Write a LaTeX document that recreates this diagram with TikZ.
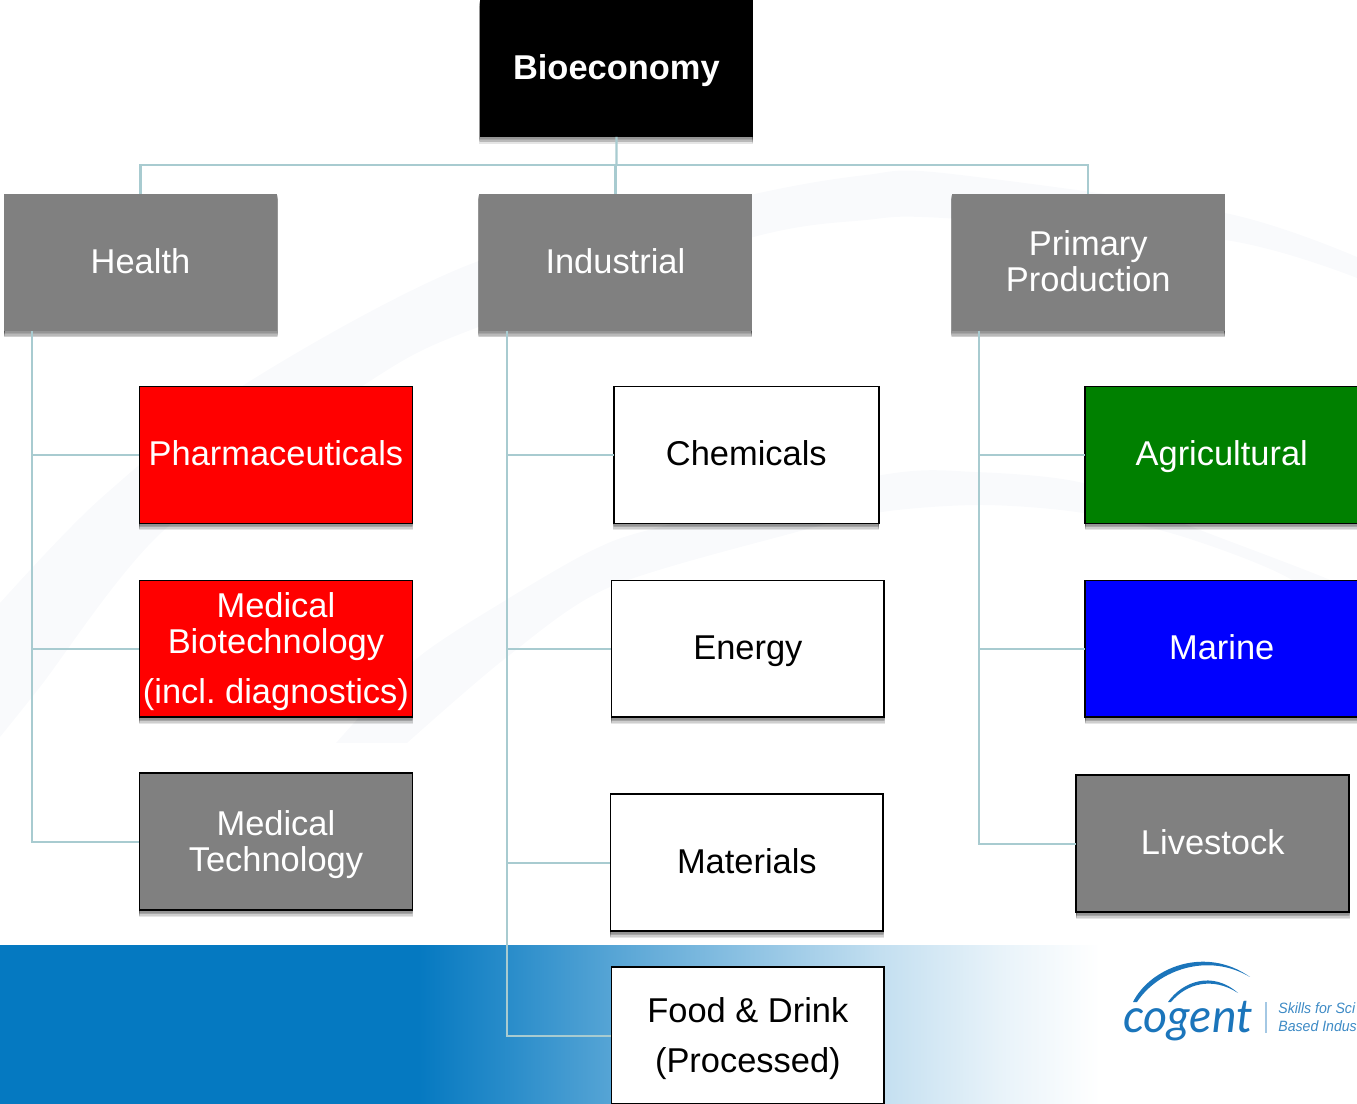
\documentclass[tikz,border=0pt]{standalone}
\usepackage{fontspec}
\setmainfont{Liberation Sans}
\newfontfamily\logofont{Lato}
\usepackage{tikz}

\definecolor{linkteal}{HTML}{A8CBD0}
\definecolor{bandblue}{HTML}{0579C1}
\definecolor{swooshgrey}{HTML}{F9FAFC}
\definecolor{logoblue}{HTML}{1B75BB}
\definecolor{boxgreen}{HTML}{008000}

% stops are in 25..75, the path is mapped on that part of the shading
\pgfdeclarehorizontalshading{bandshade}{100bp}{
  color(0bp)=(bandblue); color(44bp)=(bandblue);
  color(48bp)=(bandblue!86!white); color(52.7bp)=(bandblue!68!white);
  color(65bp)=(bandblue!24!white); color(70.5bp)=(bandblue!9!white);
  color(75bp)=(white); color(100bp)=(white)}

\tikzset{
  softlayer/.style={preaction={draw=black, fill=black, opacity=0.1, line width=0.5pt,
    transform canvas={yshift=#1}}},
  box/.style={rectangle, minimum width=5.46cm, minimum height=2.74cm, inner sep=0pt, outer sep=0pt,
    align=center, font=\fontsize{19.6pt}{20.5pt}\selectfont,
    softlayer=-3.4pt, softlayer=-2.7pt, softlayer=-2pt, softlayer=-1.3pt, softlayer=-0.6pt},
  oneline/.style={text height=15pt, text depth=2.5pt},
  topbox/.style={box, oneline, fill=black, text=white, font=\fontsize{19.6pt}{20.5pt}\selectfont\bfseries},
  sectorbox/.style={box, fill=gray, text=white},
  subbox/.style={box, draw=black, line width=1pt},
  redbox/.style={subbox, fill=red, text=white},
  greybox/.style={subbox, fill=gray, text=white},
  whitebox/.style={subbox, fill=white, text=black},
  link/.style={draw=linkteal, line width=0.045cm},
  swoosh/.style={fill=swooshgrey, draw=none}
}

\begin{document}
\begin{tikzpicture}[x=0.02cm, y=-0.02cm]
  \useasboundingbox (0,0) rectangle (1357,1104);
  \clip (0,0) rectangle (1357,1104);

  % Background
  \fill[swoosh] plot[smooth] coordinates {(0,603) (99,500) (247,383) (476,262) (750,195) (866,175) (943,173) (1225,213) (1357,257)}
    -- plot[smooth] coordinates {(1357,278) (1225,240) (943,218) (866,220) (750,238) (476,328) (367,383) (162,532) (40,687) (0,737)} -- cycle;
  \fill[swoosh] plot[smooth] coordinates {(336,743) (415,660) (506,600) (593,550) (660,527) (882,475) (975,472) (1083,483) (1187,525) (1330,580) (1357,600)}
    -- plot[smooth] coordinates {(1357,640) (1292,580) (1187,538) (1083,513) (982,505) (882,512) (793,533) (610,587) (507,657) (407,743)} -- cycle;
  \shade[shading=bandshade] (0,946) rectangle (1100,1104);

  % Logo
  \fill[logoblue] (1133,1002) .. controls (1150,968) and (1205,945) .. (1250,977)
    .. controls (1208,952) and (1158,970) .. (1137,1002) -- cycle;
  \fill[logoblue] (1168,1002) .. controls (1182,982) and (1212,970) .. (1238,993)
    .. controls (1212,976) and (1186,984) .. (1171,1002) -- cycle;
  \node[text=logoblue, inner sep=0pt, font=\fontsize{26.5pt}{26.5pt}\logofont\itshape] (cogent) at (1188,1021) {cogent};
  \node[text=logoblue!85, inner sep=0pt, anchor=west, xscale=0.945, font=\fontsize{8.5pt}{9pt}\itshape] (skills) at (1278,1008) {Skills for Sci};
  \node[text=logoblue!85, inner sep=0pt, anchor=west, xscale=0.945, font=\fontsize{8.5pt}{9pt}\itshape] (based) at (1278,1026) {Based Indus};
  \coordinate (sep_top) at (1266,1002);
  \coordinate (sep_bot) at (1266,1033);
  \draw[logoblue!40, line width=0.03cm] (sep_top) -- (sep_bot);

  % Define nodes
  \node[topbox, xshift=12.33cm, yshift=-1.37cm]     (bio) {Bioeconomy};
  \node[sectorbox, oneline, xshift=2.81cm, yshift=-5.25cm]   (health) {Health};
  \node[sectorbox, oneline, xshift=12.31cm, yshift=-5.25cm]  (industrial) {Industrial};
  \node[sectorbox, text depth=1.1pt, xshift=21.77cm, yshift=-5.25cm]  (primary) {Primary\\Production};

  \node[redbox, oneline, xshift=5.52cm, yshift=-9.10cm]      (pharma) {Pharmaceuticals};
  \node[redbox, text depth=1.3pt, xshift=5.52cm, yshift=-12.98cm]     (medbio) {Medical\\Biotechnology\\[8pt](incl.\ diagnostics)};
  \node[greybox, text depth=0.7pt, xshift=5.52cm, yshift=-16.84cm]    (medtech) {Medical\\Technology};

  \node[whitebox, oneline, minimum width=5.30cm, xshift=14.93cm, yshift=-9.10cm] (chem) {Chemicals};
  \node[whitebox, oneline, xshift=14.96cm, yshift=-12.98cm]  (energy) {Energy};
  \node[whitebox, oneline, xshift=14.94cm, yshift=-17.26cm]  (materials) {Materials};
  \node[whitebox, text depth=0.7pt, xshift=14.96cm, yshift=-20.72cm]  (food) {Food \& Drink\\[8pt](Processed)};

  \node[subbox, oneline, fill=boxgreen, text=white, xshift=24.44cm, yshift=-9.10cm] (agri) {Agricultural};
  \node[subbox, oneline, fill=blue, text=white, xshift=24.44cm, yshift=-12.98cm]    (marine) {Marine};
  \node[greybox, oneline, xshift=24.26cm, yshift=-16.88cm]   (livestock) {Livestock};

  \coordinate (bus) at (616.5,165);

  % Connect the nodes
  \draw[link] (bio.south) -- (bus);
  \draw[link] (bus) -| (health.north);
  \draw[link] (bus) -| (primary.north);
  \draw[link] (bus) -| (industrial.north);

  \draw[link] (health.south west) ++(28,0) |- (pharma.west);
  \draw[link] (health.south west) ++(28,0) |- (medbio.west);
  \draw[link] (health.south west) ++(28,0) |- (medtech.west);

  \draw[link] (industrial.south west) ++(28,0) |- (chem.west);
  \draw[link] (industrial.south west) ++(28,0) |- (energy.west);
  \draw[link] (industrial.south west) ++(28,0) |- (materials.west);
  \draw[link] (industrial.south west) ++(28,0) |- (food.west);

  \draw[link] (primary.south west) ++(27,0) |- (agri.west);
  \draw[link] (primary.south west) ++(27,0) |- (marine.west);
  \draw[link] (primary.south west) ++(27,0) |- (livestock.west);
\end{tikzpicture}
\end{document}
